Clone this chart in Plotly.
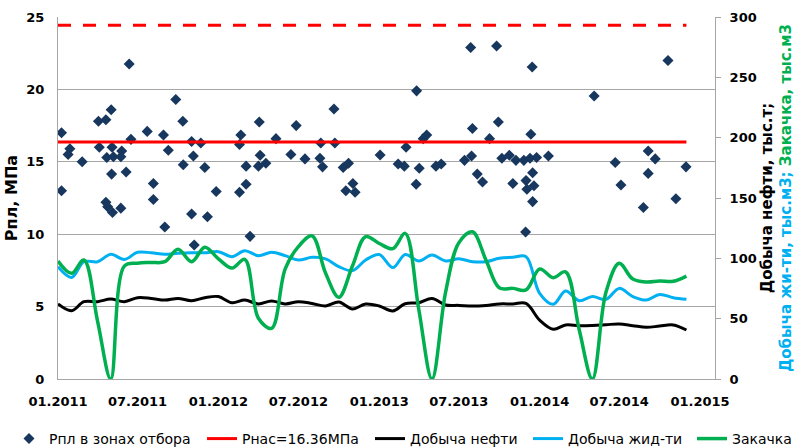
import plotly.graph_objects as go

# ---------------- data ----------------
months = [f"{y}-{m:02d}-01" for y in range(2011, 2015) for m in range(1, 13)]

# monthly production / injection, thousand units (right axis)
oil = [62.2, 56.6, 64.1, 64.1, 66.2, 64.1, 67.4, 66.8, 65.4, 66.8, 64.9, 67.4,
       68.3, 63.2, 65.4, 62.2, 64.7, 62.2, 64.1, 62.6, 60.5, 63.8, 58.0, 62.2,
       60.5, 56.4, 62.4, 63.2, 66.8, 61.3, 61.0, 60.5, 61.0, 62.2, 62.2, 62.6,
       48.8, 41.2, 44.8, 44.2, 44.4, 45.0, 45.6, 44.2, 42.8, 43.9, 44.8, 40.6]
liquid = [93.1, 84.2, 97.2, 97.2, 103.3, 99.1, 105.0, 104.6, 103.3, 104.2, 104.6, 104.6,
          105.5, 101.4, 106.3, 102.2, 105.0, 102.2, 98.6, 100.8, 99.6, 93.1, 89.8, 98.6,
          103.2, 92.3, 103.2, 97.8, 102.7, 97.8, 99.6, 97.2, 97.2, 100.0, 100.8, 101.4,
          71.0, 61.9, 73.0, 64.9, 68.3, 66.0, 75.1, 68.3, 65.4, 70.0, 67.4, 66.0]
injection = [97.8, 87.6, 98.6, 48.0, 0.0, 93.6, 96.0, 96.6, 97.2, 107.5, 97.2, 109.2,
             99.6, 91.9, 99.2, 50.4, 42.0, 91.2, 109.7, 118.6, 87.6, 67.7, 93.6, 118.0,
             112.3, 108.0, 120.7, 57.6, 0.0, 72.0, 112.8, 122.0, 98.4, 75.6, 75.1, 73.8,
             91.2, 84.0, 88.8, 40.8, 0.0, 72.0, 95.9, 82.8, 80.4, 81.2, 81.0, 85.3]

# reservoir pressure measurements in production zones, MPa
p_dates = ["2011-01-09", "2011-01-09", "2011-01-24", "2011-01-28", "2011-02-25",
           "2011-04-03", "2011-04-20", "2011-05-02", "2011-04-05", "2011-04-22",
           "2011-05-04", "2011-05-07", "2011-05-26", "2011-05-24", "2011-05-03",
           "2011-06-05", "2011-04-20", "2011-04-24", "2011-05-05", "2011-05-24",
           "2011-06-12", "2011-06-16", "2011-07-23", "2011-08-06", "2011-08-06",
           "2011-08-29", "2011-09-09", "2011-09-01", "2011-09-26", "2011-10-12",
           "2011-11-01", "2011-11-22", "2011-10-13", "2011-11-05", "2011-12-01",
           "2011-11-01", "2011-12-07", "2011-12-27", "2011-11-07",
           "2012-02-21", "2012-02-18", "2012-04-03", "2012-03-04", "2012-04-01",
           "2012-04-05", "2012-04-18", "2012-03-04", "2012-02-18", "2012-03-13",
           "2012-05-11", "2012-06-26", "2012-06-14", "2012-07-16", "2012-08-21",
           "2012-09-22", "2012-09-20", "2012-08-19", "2012-08-25", "2012-10-11",
           "2012-10-23", "2012-11-02", "2012-10-17", "2012-11-07",
           "2013-01-03", "2013-03-27", "2013-02-13", "2013-02-27", "2013-03-03",
           "2013-04-02", "2013-03-26", "2013-04-11", "2013-04-19", "2013-05-10",
           "2013-05-22", "2013-07-28", "2013-09-25", "2013-07-14", "2013-07-30",
           "2013-08-01", "2013-08-12", "2013-08-24", "2013-09-09", "2013-09-29",
           "2013-10-07", "2013-10-24", "2013-11-08", "2013-11-01", "2013-11-26",
           "2013-12-10", "2013-12-25", "2014-01-21", "2013-12-12", "2013-12-15",
           "2013-12-16", "2013-12-01", "2013-12-19", "2013-12-03", "2013-12-16",
           "2013-11-30",
           "2014-05-05", "2014-06-22", "2014-07-05", "2014-09-05", "2014-09-21",
           "2014-09-05", "2014-08-25", "2014-10-20", "2014-11-30", "2014-11-07"]
p_values = [17.0, 13.0, 15.5, 15.9, 15.0,
            17.8, 17.9, 18.6, 16.0, 15.3,
            16.0, 15.35, 15.75, 15.35, 14.15,
            14.3, 12.2, 11.9, 11.5, 11.8,
            21.75, 16.55, 17.1, 13.5, 12.4,
            16.85, 15.8, 10.5, 19.3, 17.8,
            16.4, 16.3, 14.8, 15.4, 14.6,
            11.4, 11.2, 12.95, 9.25,
            16.85, 16.2, 17.75, 14.7, 14.7,
            15.45, 14.9, 13.45, 12.9, 9.85,
            16.6, 17.5, 15.5, 15.2, 16.3,
            16.3, 18.65, 15.25, 14.65, 14.6,
            14.9, 13.5, 13.0, 12.9,
            15.47, 19.9, 14.85, 14.7, 16.0,
            14.55, 13.45, 16.6, 16.85, 14.7,
            14.85, 22.9, 23.0, 15.1, 15.4,
            17.3, 14.15, 13.6, 16.6, 17.75,
            15.25, 15.45, 15.1, 13.5, 15.1,
            15.25, 15.3, 15.4, 16.9, 21.55,
            14.25, 13.7, 13.35, 13.1, 12.25,
            10.15,
            19.55, 14.95, 13.4, 15.75, 15.2,
            14.2, 11.85, 22.0, 14.65, 12.45]

p_sat = 16.36          # saturation pressure, MPa
p_upper = 24.43        # upper dashed level, MPa
level_dates = ["2011-01-01", "2014-12-01"]

x_ticks_start = "2011-01-01"
x_range = ["2011-01-01", "2015-02-04"]

# ---------------- styles ----------------
NAVY = "#17375E"
RED = "#FF0000"
BLUE = "#00B0F0"
GREEN = "#00B050"
GRID = "#A6A6A6"
FONT = "DejaVu Sans"

fig = go.Figure()

fig.add_trace(go.Scatter(
    x=p_dates, y=p_values, mode="markers", name="Рпл в зонах отбора",
    marker=dict(symbol="diamond", size=8.5, color=NAVY, line=dict(width=0)),
    legend="legend", legendwidth=148, yaxis="y"))

fig.add_trace(go.Scatter(
    x=level_dates, y=[p_sat, p_sat], mode="lines", name="Рнас=16.36МПа",
    line=dict(color=RED, width=3), legend="legend", legendwidth=123, yaxis="y"))

fig.add_trace(go.Scatter(
    x=level_dates, y=[p_upper, p_upper], mode="lines", showlegend=False,
    line=dict(color=RED, width=3, dash="13px,12px"), yaxis="y"))

fig.add_trace(go.Scatter(
    x=months, y=oil, mode="lines", name="Добыча нефти",
    line=dict(color="black", width=3, shape="spline", smoothing=1),
    legend="legend", yaxis="y2"))

fig.add_trace(go.Scatter(
    x=months, y=liquid, mode="lines", name="Добыча жид-ти",
    line=dict(color=BLUE, width=3, shape="spline", smoothing=1),
    legend="legend2", legendwidth=119, yaxis="y2"))

fig.add_trace(go.Scatter(
    x=months, y=injection, mode="lines", name="Закачка",
    line=dict(color=GREEN, width=3.5, shape="spline", smoothing=1),
    legend="legend2", yaxis="y2"))

tickfont = dict(family=FONT, size=13, color="black", weight="bold")

right_title = ("Добыча нефти, тыс.т;<br>"
               f"<span style='color:{BLUE}'>Добыча жи-ти, тыс.м3;</span> "
               f"<span style='color:{GREEN}'>Закачка, тыс.м3</span>")

fig.update_layout(
    width=795, height=447,
    margin=dict(l=58, r=80, t=17, b=68, autoexpand=False),
    plot_bgcolor="white", paper_bgcolor="white",
    font=dict(family=FONT, color="black"),
    xaxis=dict(type="date", range=x_range, tick0=x_ticks_start, dtick="M6",
               tickformat="%m.%Y", showgrid=False, zeroline=False,
               showline=True, linecolor=GRID, linewidth=1,
               ticks="outside", ticklen=10, tickcolor="rgba(0,0,0,0)",
               tickfont=tickfont),
    yaxis=dict(range=[0, 25], dtick=5, showgrid=True, gridcolor=GRID, gridwidth=1,
               zeroline=False, showline=True, linecolor=GRID, linewidth=1,
               ticks="outside", ticklen=10, tickcolor="rgba(0,0,0,0)",
               tickfont=tickfont,
               title=dict(text="Рпл, МПа", standoff=4,
                          font=dict(family=FONT, size=16, color="black", weight="bold"))),
    yaxis2=dict(range=[0, 300], dtick=50, overlaying="y", side="right",
                showgrid=False, zeroline=False, showline=True, linecolor=GRID,
                linewidth=1, ticks="outside", ticklen=5, tickcolor=GRID,
                ticklabelstandoff=6, tickfont=tickfont,
                title=dict(text=right_title, standoff=6,
                           font=dict(family=FONT, size=15, color="black", weight="bold"))),
    legend=dict(orientation="h", x=(9 - 58) / 657, xanchor="left",
                y=-0.1215, yanchor="top", bgcolor="rgba(0,0,0,0)",
                font=dict(family=FONT, size=14, color="black")),
    legend2=dict(orientation="h", x=(528 - 58) / 657, xanchor="left",
                 y=-0.1215, yanchor="top", bgcolor="rgba(0,0,0,0)",
                 font=dict(family=FONT, size=14, color="black")),
    showlegend=True,
)

fig.write_html("out.html",
               config={"displayModeBar": False},
               post_script="document.body.style.margin='0';"
                           "document.body.style.overflow='hidden';")
